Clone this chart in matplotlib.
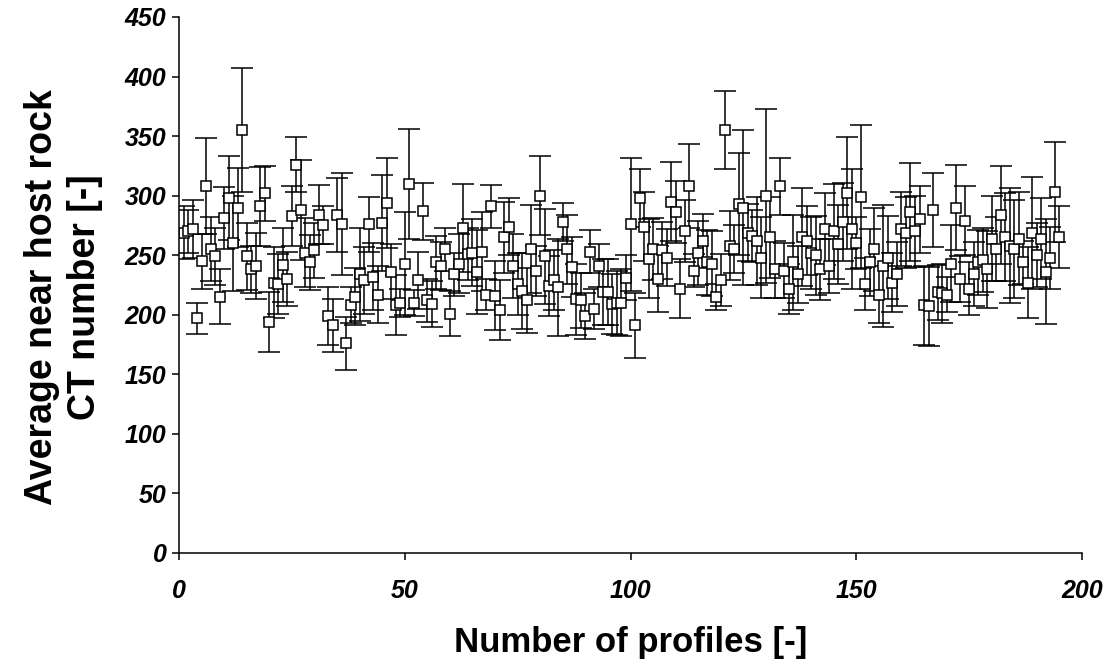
import matplotlib
matplotlib.use("Agg")
import matplotlib.pyplot as plt

plt.rcParams['font.family'] = ['Liberation Sans', 'DejaVu Sans']

# average CT number per profile
ct_mean = [
    269, 270, 272, 197, 245, 308, 255, 249, 215, 281,
    298, 260, 290, 355, 249, 238, 241, 291, 302, 194,
    227, 226, 242, 230, 283, 326, 288, 252, 244, 254,
    284, 275, 199, 191, 284, 276, 176, 208, 215, 234,
    229, 276, 232, 217, 277, 294, 236, 208, 210, 243,
    310, 210, 229, 287, 212, 209, 244, 241, 255, 201,
    234, 243, 273, 251, 252, 236, 253, 217, 291, 216,
    204, 265, 274, 241, 226, 220, 212, 255, 237, 300,
    249, 224, 229, 223, 278, 255, 240, 213, 212, 199,
    253, 205, 241, 219, 219, 209, 210, 210, 231, 276,
    191, 298, 274, 247, 255, 230, 254, 248, 295, 286,
    222, 270, 308, 237, 252, 262, 244, 243, 215, 229,
    355, 258, 255, 293, 290, 269, 266, 262, 248, 300,
    265, 238, 308, 237, 222, 244, 234, 265, 262, 252,
    250, 238, 272, 241, 270, 259, 278, 302, 272, 260,
    299, 226, 244, 255, 217, 241, 248, 227, 234, 272,
    269, 286, 270, 280, 208, 207, 288, 219, 218, 217,
    243, 290, 230, 279, 222, 234, 244, 246, 238, 264,
    255, 284, 265, 258, 255, 264, 244, 227, 269, 250,
    264, 236, 248, 303, 265,
]

# error bar half-widths
ct_err = [
    22, 18, 24, 13, 23, 40, 27, 24, 23, 26,
    35, 40, 33, 52, 28, 20, 28, 33, 23, 25,
    30, 25, 31, 23, 25, 23, 42, 29, 23, 23,
    25, 16, 24, 22, 31, 43, 22, 15, 24, 39,
    28, 23, 28, 24, 40, 38, 23, 25, 12, 43,
    46, 11, 24, 24, 18, 19, 22, 20, 18, 19,
    18, 25, 37, 22, 28, 35, 33, 13, 18, 29,
    25, 30, 24, 27, 26, 32, 27, 37, 21, 33,
    40, 25, 25, 41, 16, 29, 25, 30, 23, 19,
    18, 17, 18, 28, 28, 25, 27, 28, 19, 56,
    27, 24, 29, 33, 26, 28, 24, 24, 33, 26,
    25, 26, 35, 14, 27, 23, 27, 27, 11, 22,
    33, 29, 20, 43, 65, 24, 22, 37, 34, 73,
    34, 24, 24, 23, 21, 40, 24, 41, 29, 30,
    33, 26, 30, 23, 40, 33, 33, 47, 50, 22,
    60, 22, 28, 35, 24, 51, 35, 25, 27, 31,
    30, 41, 30, 28, 33, 33, 31, 23, 25, 15,
    32, 36, 19, 29, 22, 27, 27, 27, 32, 36,
    27, 41, 37, 48, 41, 39, 18, 30, 47, 27,
    34, 44, 26, 42, 26,
]

profiles = list(range(1, len(ct_mean) + 1))

fig = plt.figure(figsize=(11.09, 6.71), dpi=100)
ax = fig.add_axes([0.1614, 0.1759, 0.8143, 0.7988])

ax.errorbar(profiles, ct_mean, yerr=ct_err, fmt='s', color='black',
            mfc='white', mec='black', ms=7, mew=1.1,
            elinewidth=1.1, capsize=8, capthick=1.1)

ax.set_xlim(0, 200)
ax.set_ylim(0, 450)
ax.set_xticks([0, 50, 100, 150, 200])
ax.set_yticks(range(0, 451, 50))

for s in ['top', 'right']:
    ax.spines[s].set_visible(False)
for s in ['left', 'bottom']:
    ax.spines[s].set_linewidth(1.1)

ax.tick_params(direction='out', length=5, width=1.1, labelsize=18)
ax.tick_params(axis='y', pad=4)
ax.tick_params(axis='x', pad=14)
for lbl in ax.get_xticklabels() + ax.get_yticklabels():
    lbl.set_fontweight('bold')
    lbl.set_fontstyle('italic')

ax.set_xlabel('Number of profiles [-]', fontsize=25, fontweight='bold', labelpad=16)
ax.set_ylabel('Average near host rock\nCT number [-]', fontsize=27,
              fontweight='bold', labelpad=16, linespacing=1.25)
ax.yaxis.label.set_y(0.478)

fig.savefig('out.png', dpi=100)
